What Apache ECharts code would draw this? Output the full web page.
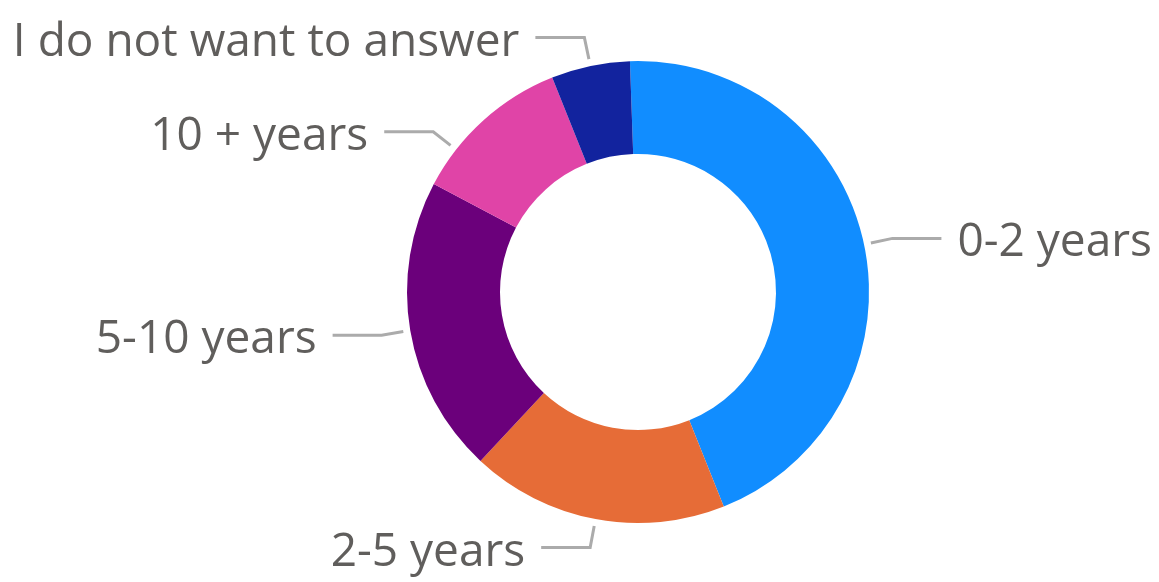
<!DOCTYPE html>
<html>
<head>
<meta charset="utf-8">
<style>
  html, body { margin: 0; padding: 0; background: #ffffff; }
  #chart { width: 1159px; height: 582px; }
</style>
<script src="https://cdn.jsdelivr.net/npm/echarts@6/dist/echarts.min.js"></script>
</head>
<body>
<div id="chart"></div>
<script>
// Years of experience (share of respondents, %)
const categories = ['0-2 years', '2-5 years', '5-10 years', '10 + years', 'I do not want to answer'];
const shares = [44.5, 18.0, 20.8, 11.2, 5.5];

const palette = ['#118DFF', '#E66C37', '#6B007B', '#E044A7', '#12239E'];

// Ring geometry and leader-line styling
const CX = 638, CY = 292;
const LEADER_GAP = 7;      // space between ring and leader start
const LEADER_TAIL = 49;    // horizontal part of the leader
const LABEL_GAP = 16;      // space between leader end and text
const TEXT_DROP = 5;       // text sits slightly below the leader
// Leaders swung along the ring so neighbouring labels stay apart (degrees)
const leaderSwing = { '10 + years': -10 };

function rotateAbout(p, rad) {
  const dx = p[0] - CX, dy = p[1] - CY;
  return [CX + dx * Math.cos(rad) - dy * Math.sin(rad),
          CY + dx * Math.sin(rad) + dy * Math.cos(rad)];
}

const chart = echarts.init(document.getElementById('chart'), null, { renderer: 'canvas' });

chart.setOption({
  backgroundColor: '#ffffff',
  color: palette,
  animation: false,
  series: [{
    type: 'pie',
    center: [CX, CY],
    radius: [138, 231],
    startAngle: 92,
    clockwise: true,
    avoidLabelOverlap: false,
    itemStyle: { borderWidth: 0 },
    label: {
      show: true,
      position: 'outside',
      formatter: '{b}',
      color: '#605E5C',
      fontFamily: '"Open Sans", "Noto Sans", sans-serif',
      fontSize: 46,
      distanceToLabelLine: LABEL_GAP
    },
    labelLine: {
      show: true,
      length: 29,
      length2: LEADER_TAIL,
      smooth: false,
      lineStyle: { color: '#ABABAB', width: 3 }
    },
    labelLayout: function (params) {
      const pts = params.labelLinePoints;
      if (!pts || pts.length < 3) return;
      const name = categories[params.dataIndex];
      const rad = (leaderSwing[name] || 0) * Math.PI / 180;
      const p0 = rotateAbout(pts[0], rad);
      const p1 = rotateAbout(pts[1], rad);
      const len = Math.hypot(p0[0] - CX, p0[1] - CY);
      const start = [p0[0] + (p0[0] - CX) / len * LEADER_GAP,
                     p0[1] + (p0[1] - CY) / len * LEADER_GAP];
      const dir = pts[2][0] < pts[1][0] ? -1 : 1;
      const p2 = [p1[0] + dir * LEADER_TAIL, p1[1]];
      return {
        x: p2[0] + dir * LABEL_GAP,
        y: p2[1] + TEXT_DROP,
        align: dir < 0 ? 'right' : 'left',
        verticalAlign: 'middle',
        labelLinePoints: [start, p1, p2]
      };
    },
    emphasis: { disabled: true },
    data: categories.map((name, i) => ({ name: name, value: shares[i] }))
  }]
});
</script>
</body>
</html>
